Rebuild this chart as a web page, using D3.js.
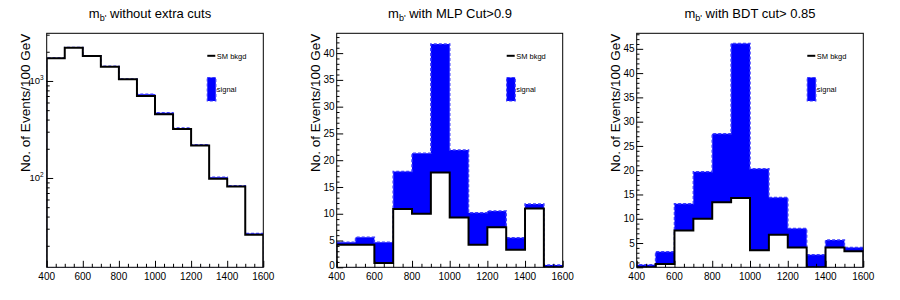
<!DOCTYPE html>
<html>
<head>
<meta charset="utf-8">
<script src="https://cdn.jsdelivr.net/npm/d3@7"></script>
<style>
  body { margin: 0; background: #fff; }
  svg { display: block; font-family: "Liberation Sans", Arial, sans-serif; }
</style>
</head>
<body>
<div id="chart"></div>
<script>
// bin edges (GeV) and histogram contents
const binEdges = [400, 500, 600, 700, 800, 900, 1000, 1100, 1200, 1300, 1400, 1500, 1600];

const bkgNoCut = [1710, 2200, 1807, 1403, 1040, 701, 455, 319, 216, 98.4, 81.5, 26];
const totNoCut = [1720, 2210, 1815, 1420, 1050, 730, 470, 328, 220, 101.5, 83, 26.8];

const bkgMLP = [4.2, 4.2, 0.8, 10.9, 10.0, 17.7, 9.3, 4.2, 7.5, 3.3, 11.0, 0];
const totMLP = [4.7, 5.6, 4.7, 17.9, 21.3, 41.7, 21.9, 10.2, 10.5, 5.5, 11.8, 0.45];

const bkgBDT = [0, 0.7, 7.6, 10.0, 13.4, 14.3, 3.5, 6.7, 4.1, 0, 4.1, 3.3];
const totBDT = [0.5, 3.2, 13.1, 19.7, 27.5, 46.1, 20.3, 14.4, 8.0, 2.6, 5.6, 4.1];

const xTicks = [400, 600, 800, 1000, 1200, 1400, 1600];
const yTicksMLP = [0, 5, 10, 15, 20, 25, 30, 35, 40];
const yTicksBDT = [0, 5, 10, 15, 20, 25, 30, 35, 40, 45];
const logTicks = [100, 1000];

const titles = ["without extra cuts", "with MLP Cut>0.9", "with BDT cut> 0.85"];
const yTitle = "No. of Events/100 GeV";

const svg = d3.select("#chart").append("svg")
    .attr("width", 900)
    .attr("height", 300);

const frameTop = 33.3, frameBottom = 267.3;

const panels = [
  {cx: 150, left: 46.7, right: 263.3, log: true, domain: [12, 3100], bkg: bkgNoCut, tot: totNoCut, ticks: logTicks},
  {cx: 450, left: 336.7, right: 562.7, log: false, domain: [0, 43.7], bkg: bkgMLP, tot: totMLP, ticks: yTicksMLP},
  {cx: 750, left: 636.7, right: 863.3, log: false, domain: [0, 48.2], bkg: bkgBDT, tot: totBDT, ticks: yTicksBDT}
];

panels.forEach((p, i) => {
  const g = svg.append("g");

  const x = d3.scaleLinear().domain([400, 1600]).range([p.left, p.right]);
  const y = (p.log ? d3.scaleLog() : d3.scaleLinear()).domain(p.domain).range([frameBottom, frameTop]);

  // step outline as a closed polygon down to the frame bottom
  const histPath = vals => {
    let d = `M${x(binEdges[0])},${frameBottom}`;
    vals.forEach((v, k) => {
      const yy = v > 0 ? y(v) : frameBottom;
      d += `L${x(binEdges[k])},${yy}L${x(binEdges[k + 1])},${yy}`;
    });
    d += `L${x(binEdges[binEdges.length - 1])},${frameBottom}`;
    return d;
  };

  const clipId = "clip" + i;
  g.append("clipPath").attr("id", clipId)
    .append("rect")
      .attr("x", p.left).attr("y", frameTop)
      .attr("width", p.right - p.left).attr("height", frameBottom - frameTop);

  const plot = g.append("g").attr("clip-path", `url(#${clipId})`);

  // signal stacked on top of background
  plot.append("path")
      .attr("d", histPath(p.tot) + "Z")
      .attr("fill", "#0000ff")
      .attr("stroke", "#3b3bff")
      .attr("stroke-width", 1.5)
      .attr("stroke-dasharray", "3,2");

  plot.append("path")
      .attr("d", histPath(p.bkg) + "Z")
      .attr("fill", "#fff")
      .attr("stroke", "none");

  plot.append("path")
      .attr("d", histPath(p.bkg))
      .attr("fill", "none")
      .attr("stroke", "#000")
      .attr("stroke-width", 2);

  // x axis ticks (inward) and labels
  const xAxis = g.append("g").attr("transform", `translate(0,${frameBottom})`);
  xAxis.call(d3.axisTop(x).tickValues(d3.range(400, 1601, 50)).tickSize(3.5).tickFormat(""));
  xAxis.call(gg => gg.select(".domain").remove());
  xAxis.selectAll(".tick").filter(d => d % 200 === 0).select("line").attr("y2", -6.5);
  xAxis.selectAll(".tick line").attr("stroke", "#000");

  g.selectAll(".xlab").data(xTicks).enter().append("text")
      .attr("x", d => x(d))
      .attr("y", 279.5)
      .attr("text-anchor", "middle")
      .style("font-size", "10px")
      .text(d => d);

  // y axis
  if (p.log) {
    const minor = [];
    [10, 100, 1000].forEach(dec => {
      for (let m = 1; m <= 9; m++) {
        const v = m * dec;
        if (v >= p.domain[0] && v <= p.domain[1]) minor.push(v);
      }
    });
    const yAxis = g.append("g").attr("transform", `translate(${p.left},0)`);
    yAxis.call(d3.axisRight(y).tickValues(minor).tickSize(3).tickFormat(""));
    yAxis.call(gg => gg.select(".domain").remove());
    yAxis.selectAll(".tick").filter(d => p.ticks.includes(d)).select("line").attr("x2", 6.5);
    yAxis.selectAll(".tick line").attr("stroke", "#000");

    p.ticks.forEach(v => {
      const t = g.append("text")
          .attr("x", p.left - 3)
          .attr("y", y(v) + 3.5)
          .attr("text-anchor", "end")
          .style("font-size", "9.5px");
      t.append("tspan").text("10");
      t.append("tspan")
          .attr("dy", -4)
          .style("font-size", "6.5px")
          .text(Math.round(Math.log10(v)));
    });
  } else {
    const yAxis = g.append("g").attr("transform", `translate(${p.left},0)`);
    yAxis.call(d3.axisRight(y).tickValues(d3.range(0, Math.floor(p.domain[1]) + 1, 1)).tickSize(2.8).tickFormat(""));
    yAxis.call(gg => gg.select(".domain").remove());
    yAxis.selectAll(".tick").filter(d => d % 5 === 0).select("line").attr("x2", 6.5);
    yAxis.selectAll(".tick line").attr("stroke", "#000");

    g.selectAll(".ylab").data(p.ticks).enter().append("text")
        .attr("x", p.left - 2)
        .attr("y", d => y(d) + (d === 0 ? 1.5 : 3.6))
        .attr("text-anchor", "end")
        .style("font-size", "10px")
        .text(d => d);
  }

  // frame
  g.append("rect")
      .attr("x", p.left).attr("y", frameTop)
      .attr("width", p.right - p.left).attr("height", frameBottom - frameTop)
      .attr("fill", "none")
      .attr("stroke", "#000")
      .attr("stroke-width", 1);

  // title
  const title = g.append("text")
      .attr("x", p.cx)
      .attr("y", 17.5)
      .attr("text-anchor", "middle")
      .style("font-size", "13px");
  title.append("tspan").text("m");
  title.append("tspan").attr("dy", 3).style("font-size", "9px").text("b'");
  title.append("tspan").attr("dy", -3).text(" " + titles[i]);

  // y title
  g.append("text")
      .attr("transform", `translate(${p.left - 16.7},${frameTop + 0.5}) rotate(-90)`)
      .attr("text-anchor", "end")
      .style("font-size", "13.5px")
      .text(yTitle);

  // legend
  const lx = p.right - 56;
  g.append("line")
      .attr("x1", lx).attr("x2", lx + 8)
      .attr("y1", 55.8).attr("y2", 55.8)
      .attr("stroke", "#000").attr("stroke-width", 2);
  g.append("text")
      .attr("x", lx + 9.5).attr("y", 58.5)
      .style("font-size", "7.5px")
      .text("SM bkgd");
  g.append("rect")
      .attr("x", lx).attr("y", 77.5)
      .attr("width", 8.5).attr("height", 23.5)
      .attr("fill", "#0000ff")
      .attr("stroke", "#3b3bff")
      .attr("stroke-width", 1.2)
      .attr("stroke-dasharray", "3,2");
  g.append("text")
      .attr("x", lx + 9.5).attr("y", 92)
      .style("font-size", "7.5px")
      .text("signal");
});
</script>
</body>
</html>
